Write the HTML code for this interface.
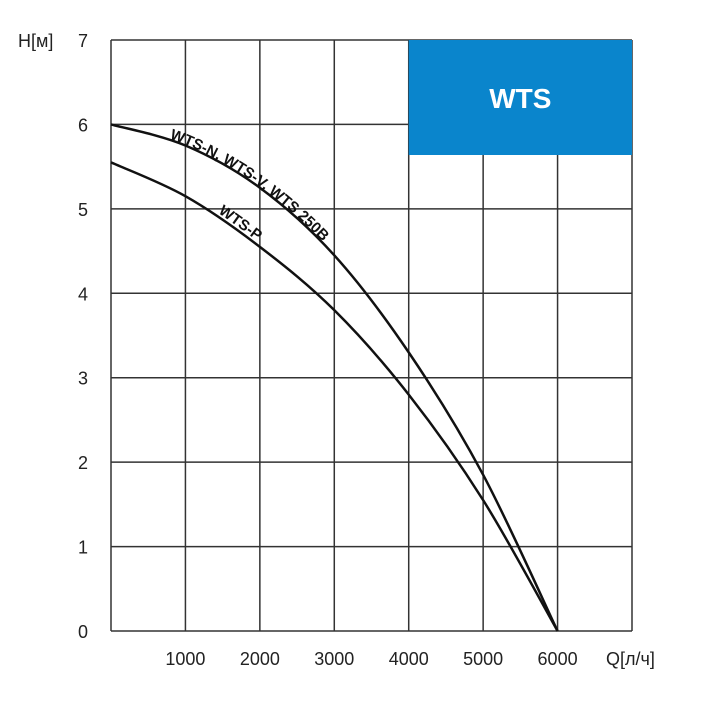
<!DOCTYPE html>
<html><head><meta charset="utf-8"><style>
body{margin:0;background:#fff;}
svg text{font-family:"Liberation Sans",sans-serif;}
</style></head><body>
<svg id="c" width="712" height="700" xmlns="http://www.w3.org/2000/svg"></svg>
<script>
const xTicks=[1000,2000,3000,4000,5000,6000];
const yTicks=[0,1,2,3,4,5,6,7];
const qValues=[0,1000,2000,3000,4000,5000,6000];
const headNVW=[6.0,5.75,5.25,4.45,3.3,1.85,0];
const headP=[5.55,5.15,4.55,3.8,2.8,1.55,0];
const NS="http://www.w3.org/2000/svg";
const svg=document.getElementById('c');
const X=v=>111+v*(632-111)/7000;
const Y=v=>631-v*(631-40)/7;
function el(t,a,p){const e=document.createElementNS(NS,t);for(const k in a)e.setAttribute(k,a[k]);(p||svg).appendChild(e);return e;}
const grid=el('g',{});


for(let v=0;v<=7000;v+=1000){el('line',{x1:X(v),x2:X(v),y1:Y(0),y2:Y(7),stroke:'#333','stroke-width':1.5},grid);}
for(const v of yTicks){el('line',{x1:X(0),x2:X(7000),y1:Y(v),y2:Y(v),stroke:'#333','stroke-width':1.5},grid);}
const box=el('rect',{x:X(4000),y:Y(7),width:X(7000)-X(4000),height:115,fill:'#0a85cc'});


const tt=el('text',{x:(X(4000)+X(7000))/2,y:108,'text-anchor':'middle',fill:'#fff','font-size':28,'font-weight':'bold'});tt.textContent='WTS';


for(const v of xTicks){const t=el('text',{x:X(v),y:665,'text-anchor':'middle','font-size':18,fill:'#222'});t.textContent=v;

}
for(const v of yTicks){const t=el('text',{x:88,y:Y(v)+7,'text-anchor':'end','font-size':18,fill:'#222'});t.textContent=v;

}
const xt=el('text',{x:606,y:665,'font-size':18,fill:'#222'});xt.textContent='Q[л/ч]';


const yt=el('text',{x:18,y:47,'font-size':18,fill:'#222'});yt.textContent='H[м]';


function path(ys){const p=qValues.map((q,i)=>[X(q),Y(ys[i])]);let d='M'+p[0];
for(let i=0;i<p.length-1;i++){const p0=p[i-1]||p[i],p1=p[i],p2=p[i+1],p3=p[i+2]||p2;
d+=' C'+(p1[0]+(p2[0]-p0[0])/6)+','+(p1[1]+(p2[1]-p0[1])/6)+' '+(p2[0]-(p3[0]-p1[0])/6)+','+(p2[1]-(p3[1]-p1[1])/6)+' '+p2[0]+','+p2[1];}return d;}
const c1=el('path',{id:'c1',d:path(headNVW),fill:'none',stroke:'#111','stroke-width':2.5});


const c2=el('path',{id:'c2',d:path(headP),fill:'none',stroke:'#111','stroke-width':2.5});


const l1=el('text',{'font-size':15,'font-weight':'bold',fill:'#111',dy:-1});


const tp1=el('textPath',{href:'#c1',startOffset:60},l1);tp1.textContent='WTS-N, WTS-V, WTS 250B';
const l2=el('text',{'font-size':15,'font-weight':'bold',fill:'#111',dy:-3});


const tp2=el('textPath',{href:'#c2',startOffset:118},l2);tp2.textContent='WTS-P';
</script>
</body></html>
